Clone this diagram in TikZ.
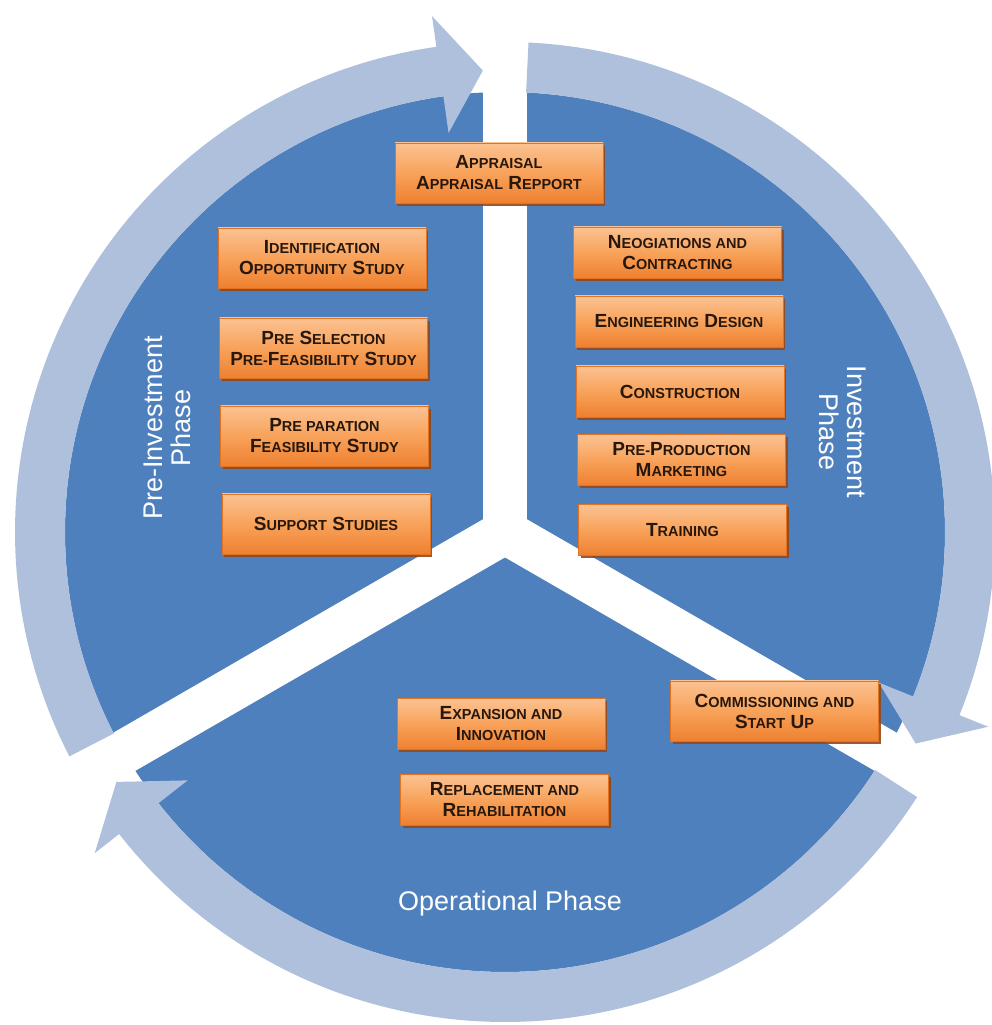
\documentclass[tikz,border=0pt]{standalone}
\usepackage{fontspec}
\setmainfont{Liberation Sans}
\usetikzlibrary{shadows}
\definecolor{discblue}{RGB}{78,128,189}
\definecolor{ringblue}{RGB}{174,192,220}
\definecolor{boxtop}{RGB}{251,194,146}
\definecolor{boxmid}{RGB}{248,162,90}
\definecolor{boxbot}{RGB}{238,128,48}
\definecolor{boxline}{RGB}{226,115,35}
\definecolor{boxshadow}{RGB}{150,72,22}
\definecolor{boxtext}{RGB}{40,24,12}
\newcommand\sm[1]{{\fontsize{14.5}{21}\selectfont\uppercase{#1}}}
\newcommand\ringarrow[3]{%
  \fill[ringblue] (#1:490) arc[start angle=#1, end angle=#2, radius=490]
    -- (#2:521) -- (#3:462) -- (#2:403) -- (#2:440)
    arc[start angle=#2, end angle=#1, radius=440] -- cycle;}
\begin{document}
\begin{tikzpicture}[x=1pt,y=1pt,
  stage/.style={draw=boxline, line width=0.7pt, top color=boxtop, bottom color=boxbot, middle color=boxmid,
    minimum width=208pt, minimum height=60pt, inner sep=0pt, align=center,
    font=\fontsize{19}{21}\selectfont\bfseries, text=boxtext,
    drop shadow={shadow xshift=2pt, shadow yshift=-3pt, fill=boxshadow, opacity=0.9}},
  short/.style={minimum height=51pt},
  phase/.style={text=white, font=\fontsize{27}{28}\selectfont, align=center, inner sep=0pt},
  gap/.style={draw=white, line width=44pt}]
\useasboundingbox (0,0) rectangle (992,1025);
\fill[white] (0,0) rectangle (992,1025);
\coordinate (C) at (505,493);
\fill[discblue] (C) circle[radius=440];
\begin{scope}[shift={(C)}]
  \coordinate (g1) at (90:505);
  \coordinate (g2) at (210:505);
  \coordinate (g3) at (330:505);
  \draw[gap] (0,0) -- (g1);
  \draw[gap] (0,0) -- (g2);
  \draw[gap] (0,0) -- (g3);
  \ringarrow{207.25}{98.05}{92.75}
  \ringarrow{87.25}{-21.95}{-27.25}
  \ringarrow{327.25}{218.05}{212.75}
\end{scope}
% pre-investment
\node[stage] (appr) at (499,852) {A\sm{ppraisal}\\A\sm{ppraisal} R\sm{epport}};
\node[stage] (ident) at (322,767) {I\sm{dentification}\\O\sm{pportunity} S\sm{tudy}};
\node[stage] (presel) at (323.5,677) {P\sm{re} S\sm{election}\\P\sm{re-}F\sm{easibility} S\sm{tudy}};
\node[stage] (prep) at (324.5,589) {P\sm{re paration}\\F\sm{easibility} S\sm{tudy}};
\node[stage] (supp) at (326,501) {S\sm{upport} S\sm{tudies}};
% investment
\node[stage,short] (neog) at (677.5,772.5) {N\sm{eogiations and}\\C\sm{ontracting}};
\node[stage,short] (eng) at (679,703.5) {E\sm{ngineering} D\sm{esign}};
\node[stage,short] (cons) at (680,633.5) {C\sm{onstruction}};
\node[stage,short] (prepro) at (681.5,565) {P\sm{re-}P\sm{roduction}\\M\sm{arketing}};
\node[stage,short] (train) at (682.5,495) {T\sm{raining}};
\node[stage] (comm) at (774.5,314) {C\sm{ommissioning and}\\S\sm{tart} U\sm{p}};
% operational
\node[stage,short] (exp) at (501,301) {E\sm{xpansion and}\\I\sm{nnovation}};
\node[stage,short] (repl) at (504.5,225) {R\sm{eplacement and}\\R\sm{ehabilitation}};
% phase labels
\node[phase, rotate=90] (pre) at (167,597) {Pre-Investment\\Phase};
\node[phase, rotate=-90] (inv) at (843,593) {Investment\\Phase};
\node[phase] (op) at (510,121) {Operational Phase};
\end{tikzpicture}
\end{document}
